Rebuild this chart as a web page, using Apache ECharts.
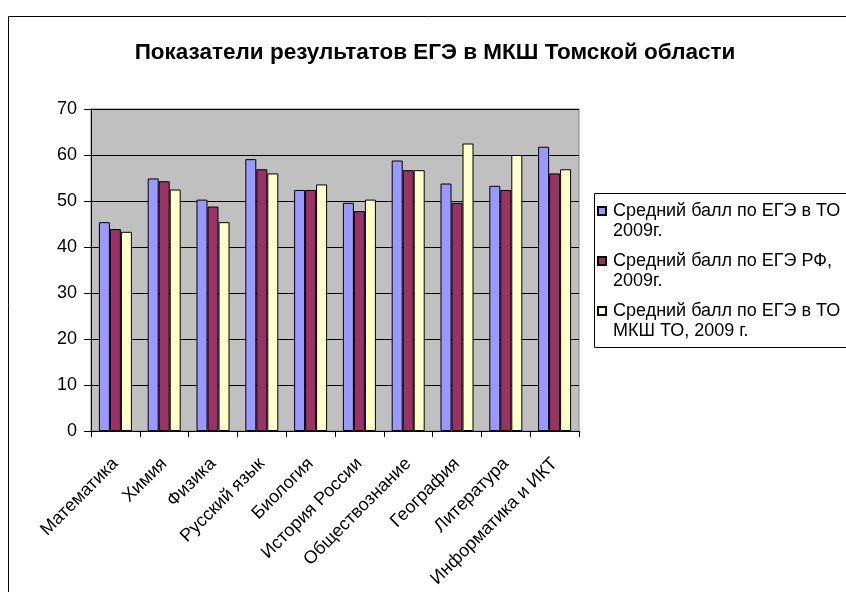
<!DOCTYPE html>
<html><head><meta charset="utf-8">
<script src="https://cdn.jsdelivr.net/npm/echarts@6/dist/echarts.min.js"></script>
<style>html,body{margin:0;padding:0;background:#fff}#c{width:846px;height:592px}</style>
</head><body><div id="c"></div>
<script>
const categories = ['Математика','Химия','Физика','Русский язык','Биология','История России','Обществознание','География','Литература','Информатика и ИКТ'];
const seriesNames = ['Средний балл по ЕГЭ в ТО\n2009г.','Средний балл по ЕГЭ РФ,\n2009г.','Средний балл по ЕГЭ в ТО\nМКШ ТО, 2009 г.'];
const avgTO = [45.4, 54.9, 50.3, 59.1, 52.4, 49.6, 58.8, 53.8, 53.3, 61.8];
const avgRF = [43.9, 54.3, 48.8, 56.9, 52.4, 47.8, 56.7, 49.6, 52.4, 56.0];
const avgMKSH = [43.3, 52.5, 45.4, 56.0, 53.6, 50.3, 56.7, 62.5, 60.0, 56.9];
const colors = ['#9999FF','#993366','#FFFFCC'];
const yTicks = {min:0, max:70, interval:10};
const FONT = '"Liberation Sans", Arial, sans-serif';

const chart = echarts.init(document.getElementById('c'), null, {renderer:'canvas'});
const values = [avgTO, avgRF, avgMKSH];
chart.setOption({
  animation:false,
  backgroundColor:'#fff',
  title:{text:'Показатели результатов ЕГЭ в МКШ Томской области', left:430, top:36, textAlign:'center',
    textStyle:{fontFamily:FONT, fontSize:22.5, fontWeight:'bold', color:'#000'}},
  graphic:[
    {type:'rect', left:6, top:14, shape:{width:900, height:700}, style:{fill:'none', stroke:'#000', lineWidth:1}, z:-1},
    {type:'rect', left:594, top:193, shape:{width:300, height:154}, style:{fill:'#fff', stroke:'#000', lineWidth:1}, z:0}
  ],
  legend:{orient:'vertical', left:597, top:181, padding:0, itemWidth:8, itemHeight:8, itemGap:-10,
    icon:'rect',
    formatter: n => '\n' + n,
    textStyle:{fontFamily:FONT, fontSize:18, lineHeight:20, color:'#000', padding:[0,0,0,2]},
    data:seriesNames, z:5},
  grid:{left:91, top:109, right:267, bottom:161, show:true, backgroundColor:'#C0C0C0', borderColor:'#808080', borderWidth:1},
  xAxis:{type:'category', data:categories, boundaryGap:true,
    axisLine:{lineStyle:{color:'#000', width:1}},
    axisTick:{show:true, interval:0, length:6, lineStyle:{color:'#000'}},
    axisLabel:{interval:0, rotate:45, margin:30, fontFamily:FONT, fontSize:18, color:'#000'}},
  yAxis:{type:'value', min:yTicks.min, max:yTicks.max, interval:yTicks.interval,
    axisLine:{show:true, lineStyle:{color:'#000', width:1}},
    axisTick:{show:true, length:7, lineStyle:{color:'#000'}},
    axisLabel:{margin:14, fontFamily:FONT, fontSize:18, color:'#000'},
    splitLine:{show:true, lineStyle:{color:'#000', width:1}}},
  series: seriesNames.map((n,i)=>({name:n, type:'bar', data:values[i], barWidth:11, barGap:'0%',
    itemStyle:{color:colors[i], borderColor:'#000', borderWidth:1}}))
});
</script></body></html>
